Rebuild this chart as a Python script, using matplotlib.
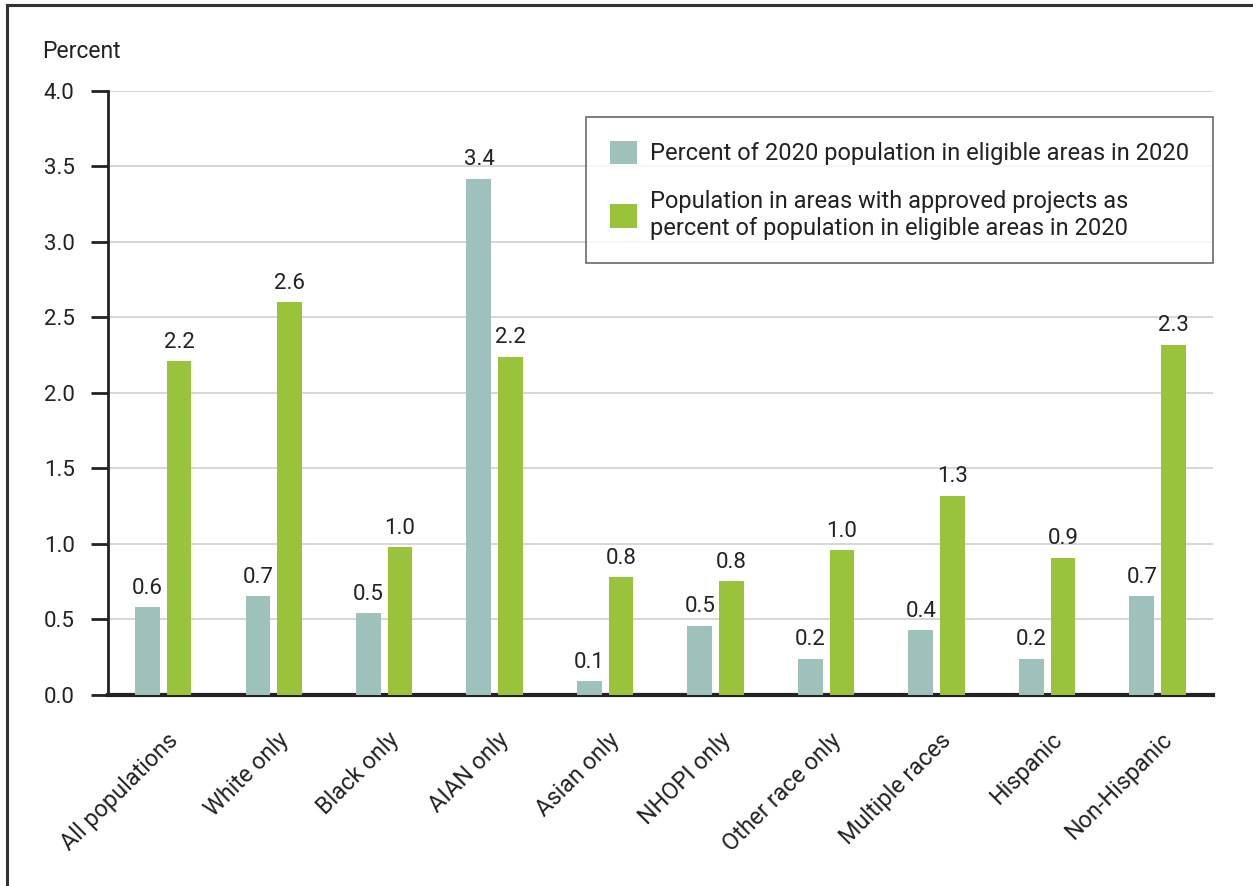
import matplotlib
matplotlib.use("Agg")
import matplotlib.pyplot as plt
from matplotlib.patches import Patch
from matplotlib.lines import Line2D
import numpy as np

plt.rcParams['font.family'] = ['Roboto', 'DejaVu Sans']

categories = ["All populations", "White only", "Black only", "AIAN only", "Asian only",
              "NHOPI only", "Other race only", "Multiple races", "Hispanic", "Non-Hispanic"]
eligible_pct = [0.58, 0.655, 0.54, 3.42, 0.09, 0.46, 0.24, 0.43, 0.24, 0.655]
approved_pct = [2.21, 2.60, 0.98, 2.24, 0.78, 0.755, 0.96, 1.32, 0.91, 2.32]
series_labels = ["Percent of 2020 population in eligible areas in 2020",
                 "Population in areas with approved projects as\npercent of population in eligible areas in 2020"]
yticks = [0.0, 0.5, 1.0, 1.5, 2.0, 2.5, 3.0, 3.5, 4.0]

teal = "#9fc1bb"
green = "#9ac33c"
ink = "#222222"
fs = 16

fig = plt.figure(figsize=(12.53, 8.86), dpi=100)
ax = fig.add_axes([0.0862, 0.2156, 0.8818, 0.6817])

x = np.arange(len(categories))
w = 0.225
off = 0.143
b1 = ax.bar(x - off, eligible_pct, width=w, color=teal, zorder=3)
b2 = ax.bar(x + off, approved_pct, width=w, color=green, zorder=3)

for bars, vals in ((b1, eligible_pct), (b2, approved_pct)):
    for rect, v in zip(bars, vals):
        ax.annotate(f"{v:.1f}", (rect.get_x() + rect.get_width() / 2, v),
                    xytext=(0, 6), textcoords="offset points",
                    ha="center", va="bottom", fontsize=fs, color=ink)

ax.set_xlim(-0.5, len(categories) - 0.5)
ax.set_ylim(0, 4.0)
ax.set_yticks(yticks)
ax.set_yticklabels([f"{t:.1f}" for t in yticks], fontsize=fs, color=ink)
ax.yaxis.grid(True, color="#cfcfcf", linewidth=1.2, zorder=0)
ax.set_axisbelow(True)

# category labels sit slightly right of group centre, ending at the upper right
ax.set_xticks(x + 0.1)
ax.set_xticklabels(categories, rotation=45, ha="right", rotation_mode="anchor",
                   fontsize=16.8, color=ink)
for lab in ax.get_xticklabels():
    lab.set_verticalalignment("center")
ax.tick_params(axis="x", length=0, pad=30)
ax.tick_params(axis="y", length=12, width=2, color=ink, pad=12)

for s in ("top", "right"):
    ax.spines[s].set_visible(False)
ax.spines["left"].set_linewidth(2)
ax.spines["left"].set_color(ink)
ax.spines["bottom"].set_linewidth(3)
ax.spines["bottom"].set_color(ink)

fig.text(42 / 1253, 1 - 52 / 886, "Percent", fontsize=16.5, color=ink, ha="left", va="center")

handles = [Patch(facecolor=teal, edgecolor="none"), Patch(facecolor=green, edgecolor="none")]
leg = ax.legend(handles, series_labels, loc="upper right", bbox_to_anchor=(1.0, 0.957),
                borderaxespad=0, fontsize=17, frameon=True, fancybox=False,
                edgecolor="#444444", handlelength=1.15, handleheight=1.15,
                handletextpad=0.55, borderpad=1.0, labelspacing=1.05, labelcolor=ink)
leg.get_frame().set_linewidth(1.2)

# outer frame
fig.add_artist(Line2D([7 / 1253, 7 / 1253], [0, 1 - 5 / 886], transform=fig.transFigure,
                      color="#333333", linewidth=2.2))
fig.add_artist(Line2D([7 / 1253, 1], [1 - 5 / 886, 1 - 5 / 886], transform=fig.transFigure,
                      color="#333333", linewidth=2.2))

fig.savefig("out.png", dpi=100)
